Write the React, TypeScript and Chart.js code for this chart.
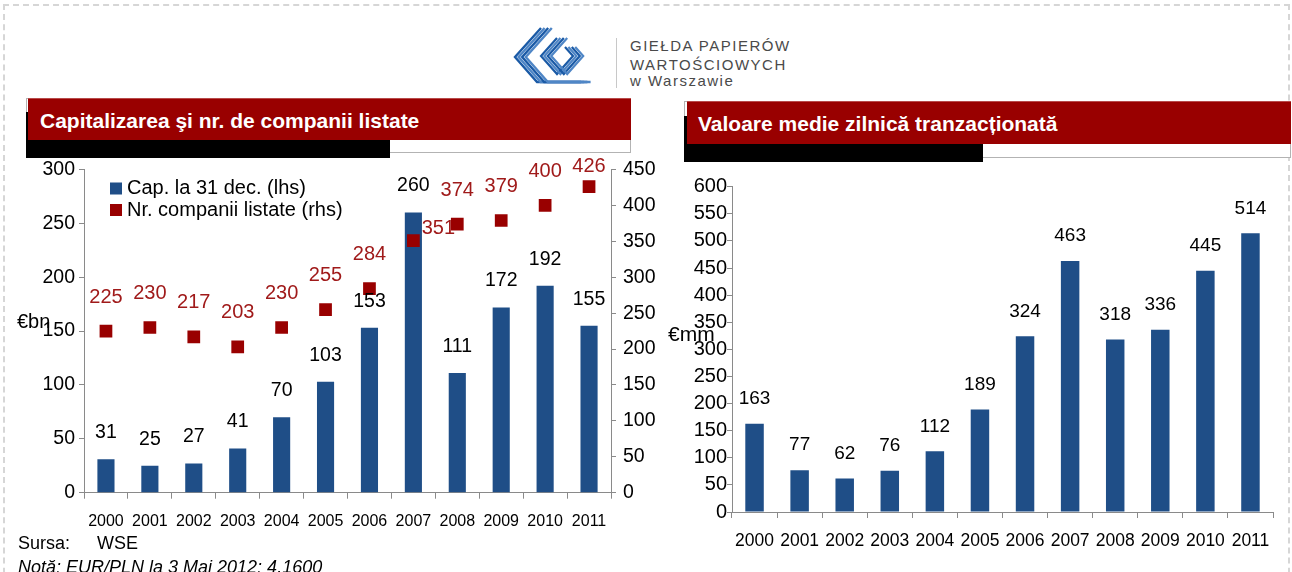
import React, { useEffect, useRef } from 'react';
import { Chart, registerables } from 'chart.js';

Chart.register(...registerables);

const FONT = '"Liberation Sans", Arial, Helvetica, sans-serif';

const YEARS = ['2000', '2001', '2002', '2003', '2004', '2005', '2006', '2007', '2008', '2009', '2010', '2011'];
const CAPITALIZATION_EUR_BN = [31, 25, 27, 41, 70, 103, 153, 260, 111, 172, 192, 155];
const LISTED_COMPANIES = [225, 230, 217, 203, 230, 255, 284, 351, 374, 379, 400, 426];
const DAILY_TURNOVER_EUR_MM = [163, 77, 62, 76, 112, 189, 324, 463, 318, 336, 445, 514];

const LEFT_TITLE = 'Capitalizarea şi nr. de companii listate';
const RIGHT_TITLE = 'Valoare medie zilnică tranzacționată';
const CAP_LABEL = 'Cap. la 31 dec. (lhs)';
const COMP_LABEL = 'Nr. companii listate (rhs)';

const BLUE = '#1F4E87';
const DARK_RED = '#990000';
const LABEL_RED = '#A01A1A';
const AXIS_GRAY = '#8a8a8a';

const valueLabelsPlugin = {
  id: 'valueLabels',
  afterDatasetsDraw(chart: any, _args: any, opts: any) {
    const { ctx, chartArea } = chart;
    (opts.sets || []).forEach((cfg: any) => {
      const meta = chart.getDatasetMeta(cfg.dataset);
      const data = chart.data.datasets[cfg.dataset].data;
      ctx.save();
      ctx.font = `${cfg.size}px ${FONT}`;
      ctx.fillStyle = cfg.color;
      ctx.textAlign = 'center';
      ctx.textBaseline = 'middle';
      meta.data.forEach((el: any, i: number) => {
        const special = cfg.shift ? cfg.shift[i] : undefined;
        const x = el.x + (special ? special[0] : 0);
        let y = el.y + (special ? special[1] : -cfg.gap);
        if (cfg.minTop !== undefined) y = Math.max(y, chartArea.top + cfg.minTop);
        ctx.fillText(String(data[i]), x, y);
      });
      ctx.restore();
    });
  },
};

const insideLegendPlugin = {
  id: 'insideLegend',
  afterDraw(chart: any, _args: any, opts: any) {
    if (!opts || !opts.show) return;
    const { ctx, chartArea } = chart;
    ctx.save();
    ctx.font = `${opts.size}px ${FONT}`;
    ctx.textBaseline = 'middle';
    ctx.textAlign = 'left';
    opts.order.forEach((di: number, i: number) => {
      const ds = chart.data.datasets[di];
      const cy = chartArea.top + opts.top + i * opts.rowGap;
      const color = ds.type === 'line' ? ds.pointBackgroundColor : ds.backgroundColor;
      ctx.fillStyle = color;
      ctx.fillRect(chartArea.left + opts.left, cy - opts.box / 2, opts.box, opts.box);
      ctx.fillStyle = '#000';
      ctx.fillText(ds.label, chartArea.left + opts.left + opts.box + opts.textGap, cy);
    });
    ctx.restore();
  },
};

function axisGrid(tickLength: number) {
  return { drawOnChartArea: false, drawTicks: true, tickLength, color: AXIS_GRAY, lineWidth: 1 };
}

function LeftChart() {
  const ref = useRef<HTMLCanvasElement | null>(null);
  useEffect(() => {
    if (!ref.current) return;
    const chart = new Chart(ref.current, {
      type: 'bar',
      data: {
        labels: YEARS,
        datasets: [
          {
            type: 'bar',
            label: CAP_LABEL,
            data: CAPITALIZATION_EUR_BN,
            backgroundColor: BLUE,
            borderWidth: 0,
            yAxisID: 'y',
            order: 2,
            barPercentage: 0.39,
            categoryPercentage: 1,
          } as any,
          {
            type: 'line',
            label: COMP_LABEL,
            data: LISTED_COMPANIES,
            showLine: false,
            pointStyle: 'rect',
            pointRadius: 9,
            pointBorderWidth: 0,
            pointBackgroundColor: DARK_RED,
            backgroundColor: DARK_RED,
            borderColor: DARK_RED,
            yAxisID: 'y1',
            order: 1,
          } as any,
        ],
      },
      options: {
        responsive: false,
        animation: false,
        events: [],
        layout: { padding: { top: 19.5, left: 0, right: 0, bottom: 0 } },
        scales: {
          x: {
            type: 'category',
            offset: true,
            grid: { ...axisGrid(6), offset: true },
            border: { display: true, color: AXIS_GRAY, width: 1 },
            ticks: { font: { family: FONT, size: 16 }, color: '#000', padding: 13, maxRotation: 0, autoSkip: false },
            afterFit: (s: any) => { s.height = 47.3; },
          },
          y: {
            position: 'left',
            min: 0,
            max: 300,
            grid: axisGrid(5),
            border: { display: true, color: AXIS_GRAY, width: 1 },
            ticks: { stepSize: 50, font: { family: FONT, size: 19.5 }, color: '#000', padding: 4 },
            afterFit: (s: any) => { s.width = 84; },
          },
          y1: {
            position: 'right',
            min: 0,
            max: 450,
            grid: axisGrid(5),
            border: { display: true, color: AXIS_GRAY, width: 1 },
            ticks: { stepSize: 50, font: { family: FONT, size: 19.5 }, color: '#000', padding: 7 },
            afterFit: (s: any) => { s.width = 49; },
          },
        } as any,
        plugins: {
          legend: { display: false },
          tooltip: { enabled: false },
          valueLabels: {
            sets: [
              { dataset: 0, size: 19.5, color: '#000', gap: 26.5 },
              { dataset: 1, size: 20, color: LABEL_RED, gap: 34, minTop: -3, shift: { 7: [25, -12] } },
            ],
          },
          insideLegend: { show: true, order: [0, 1], size: 20, top: 19, rowGap: 21.5, left: 26, box: 12, textGap: 5 },
        } as any,
      },
      plugins: [valueLabelsPlugin, insideLegendPlugin] as any,
    });
    return () => chart.destroy();
  }, []);
  return <canvas ref={ref} width={660} height={390} style={{ position: 'absolute', left: 0, top: 150 }} />;
}

function RightChart() {
  const ref = useRef<HTMLCanvasElement | null>(null);
  useEffect(() => {
    if (!ref.current) return;
    const chart = new Chart(ref.current, {
      type: 'bar',
      data: {
        labels: YEARS,
        datasets: [
          {
            label: 'Valoare medie zilnică',
            data: DAILY_TURNOVER_EUR_MM,
            backgroundColor: BLUE,
            borderWidth: 0,
            barPercentage: 0.41,
            categoryPercentage: 1,
          },
        ],
      },
      options: {
        responsive: false,
        animation: false,
        events: [],
        layout: { padding: { top: 16.7, left: 0, right: 19, bottom: 0 } },
        scales: {
          x: {
            type: 'category',
            offset: true,
            grid: { ...axisGrid(6), offset: true },
            border: { display: true, color: AXIS_GRAY, width: 1 },
            ticks: { font: { family: FONT, size: 17.5 }, color: '#000', padding: 13, maxRotation: 0, autoSkip: false },
            afterFit: (s: any) => { s.height = 48; },
          },
          y: {
            position: 'left',
            min: 0,
            max: 600,
            grid: axisGrid(5),
            border: { display: true, color: AXIS_GRAY, width: 1 },
            ticks: { stepSize: 50, font: { family: FONT, size: 20 }, color: '#000', padding: 0 },
            afterFit: (s: any) => { s.width = 72; },
          },
        } as any,
        plugins: {
          legend: { display: false },
          tooltip: { enabled: false },
          valueLabels: { sets: [{ dataset: 0, size: 19, color: '#000', gap: 25 }] },
        } as any,
      },
      plugins: [valueLabelsPlugin] as any,
    });
    return () => chart.destroy();
  }, []);
  return <canvas ref={ref} width={632} height={390} style={{ position: 'absolute', left: 660, top: 170 }} />;
}

function TitleBlock(props: {
  text: string;
  frame: [number, number, number, number];
  black: [number, number, number, number];
  red: [number, number, number, number];
  textLeft: number;
  textTop: number;
}) {
  const { frame, black, red } = props;
  return (
    <>
      <div style={{ position: 'absolute', left: frame[0], top: frame[1], width: frame[2], height: frame[3], border: '1px solid #b3b3b3', boxSizing: 'border-box', background: '#fff' }} />
      <div style={{ position: 'absolute', left: black[0], top: black[1], width: black[2], height: black[3], background: '#000' }} />
      <div style={{ position: 'absolute', left: red[0], top: red[1], width: red[2], height: red[3], background: DARK_RED, borderTop: '1px solid #b84a4a', boxSizing: 'border-box' }} />
      <div style={{ position: 'absolute', left: props.textLeft, top: props.textTop, color: '#fff', fontFamily: FONT, fontWeight: 'bold', fontSize: 21, lineHeight: '21px', whiteSpace: 'nowrap' }}>
        {props.text}
      </div>
    </>
  );
}

function Logo() {
  const stripes = [0, 1, 2, 3];
  return (
    <>
      <svg width={86} height={60} viewBox="0 0 86 60" style={{ position: 'absolute', left: 511, top: 26 }}>
        {stripes.map((k) => (
          <polyline
            key={'a' + k}
            points={`${30 + k * 3.6},2 ${4 + k * 3.6},31 ${26 + k * 3.6},56 ${70 + k * 3.2},56`}
            fill="none"
            stroke={k % 2 === 0 ? '#1a5aa6' : '#4f86c6'}
            strokeWidth={2.4}
          />
        ))}
        {stripes.map((k) => (
          <polyline
            key={'b' + k}
            points={`${46 + k * 3.4},12 ${30 + k * 3.4},30 ${46 + k * 3.4},48 ${62 + k * 3.4},30 ${54 + k * 3.4},21`}
            fill="none"
            stroke={k % 2 === 0 ? '#1a5aa6' : '#4f86c6'}
            strokeWidth={2.2}
          />
        ))}
      </svg>
      <div style={{ position: 'absolute', left: 616, top: 38, width: 1, height: 50, background: '#c8c8c8' }} />
      <div style={{ position: 'absolute', left: 630, top: 37, fontFamily: FONT, fontSize: 15, lineHeight: '18px', color: '#4a4a4a', letterSpacing: 1.5, whiteSpace: 'nowrap' }}>
        <div>GIEŁDA PAPIERÓW</div>
        <div style={{ marginTop: 1 }}>WARTOŚCIOWYCH</div>
        <div style={{ marginTop: -2 }}>w Warszawie</div>
      </div>
    </>
  );
}

export default function App() {
  return (
    <div style={{ position: 'absolute', left: 0, top: 0, width: 1292, height: 572, overflow: 'hidden', background: '#fff', fontFamily: FONT }}>
      <div style={{ position: 'absolute', left: 3, top: 4, width: 1287, height: 620, border: '2px dashed #d6d6d6', boxSizing: 'border-box' }} />
      <Logo />
      <TitleBlock text={LEFT_TITLE} frame={[26, 98, 605, 55]} black={[26, 112, 364, 46]} red={[28, 98, 603, 42]} textLeft={40} textTop={110} />
      <TitleBlock text={RIGHT_TITLE} frame={[684, 101, 607, 57]} black={[684, 116, 299, 46]} red={[687, 101, 604, 43]} textLeft={698} textTop={113} />
      <LeftChart />
      <RightChart />
      <div style={{ position: 'absolute', left: 17, top: 311, fontSize: 20, lineHeight: '20px', color: '#000' }}>€bn</div>
      <div style={{ position: 'absolute', left: 668, top: 323, fontSize: 21, lineHeight: '21px', color: '#000' }}>€mm</div>
      <div style={{ position: 'absolute', left: 18, top: 534, fontSize: 18, lineHeight: '18px', color: '#000', whiteSpace: 'pre' }}>Sursa:</div>
      <div style={{ position: 'absolute', left: 97, top: 534, fontSize: 18, lineHeight: '18px', color: '#000' }}>WSE</div>
      <div style={{ position: 'absolute', left: 18, top: 558, fontSize: 18, lineHeight: '18px', color: '#000', fontStyle: 'italic', whiteSpace: 'nowrap' }}>
        Notă: EUR/PLN la 3 Mai 2012: 4.1600
      </div>
    </div>
  );
}
